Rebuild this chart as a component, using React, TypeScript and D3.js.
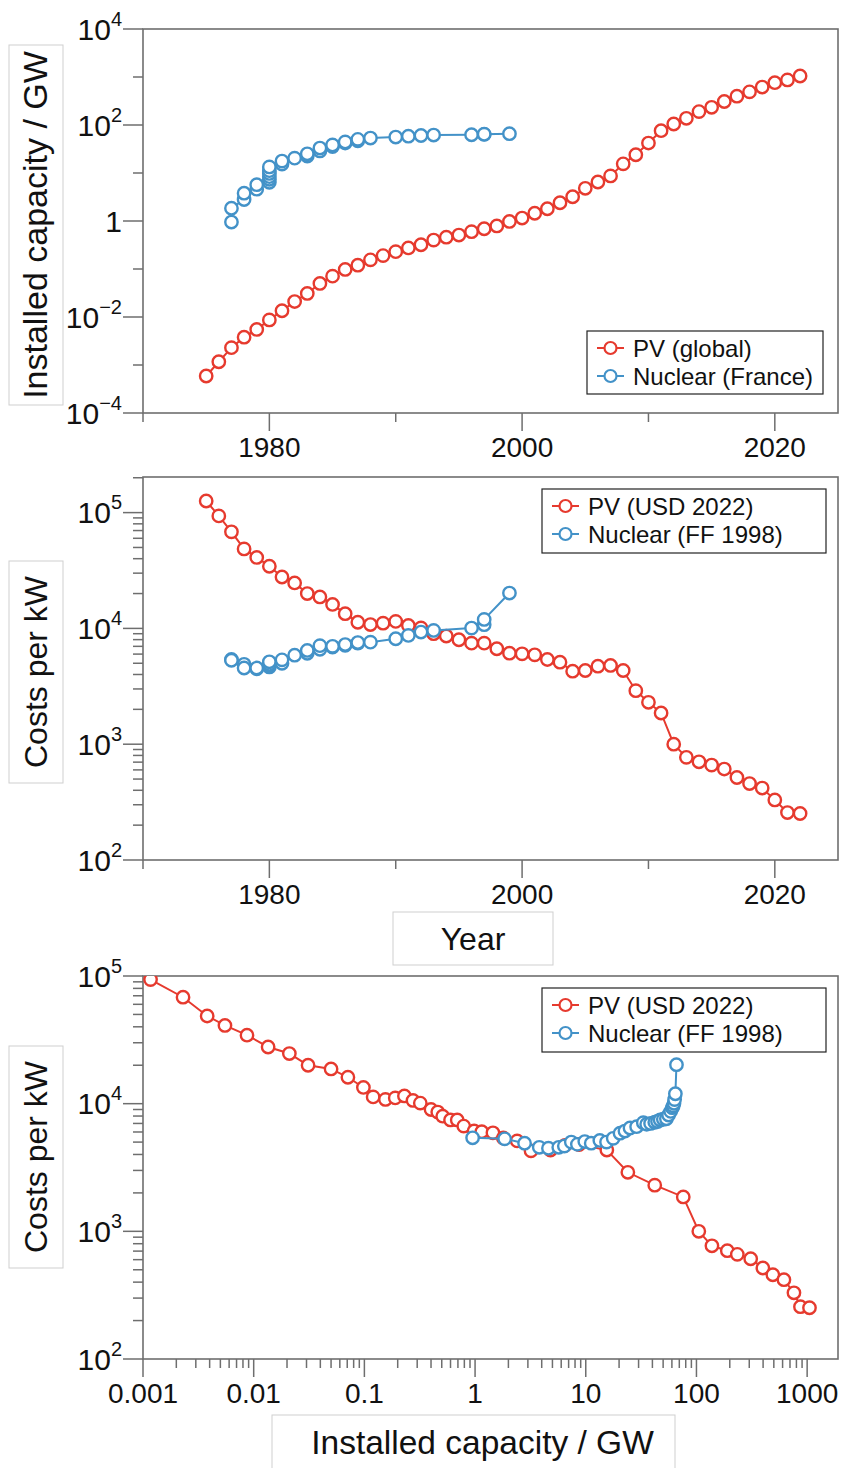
import { useEffect, useRef } from "react";
import * as d3 from "d3";

// PV (global) – year, cumulative installed capacity (GW), cost per kW (USD 2022)
const PV_YEARS = [
  1975, 1976, 1977, 1978, 1979, 1980, 1981, 1982, 1983, 1984, 1985, 1986,
  1987, 1988, 1989, 1990, 1991, 1992, 1993, 1994, 1995, 1996, 1997, 1998,
  1999, 2000, 2001, 2002, 2003, 2004, 2005, 2006, 2007, 2008, 2009, 2010,
  2011, 2012, 2013, 2014, 2015, 2016, 2017, 2018, 2019, 2020, 2021, 2022,
];
const PV_CAPACITY = [
  0.00059, 0.00117, 0.0023, 0.0038, 0.0055, 0.0087, 0.0135, 0.021, 0.031, 0.05,
  0.071, 0.098, 0.12, 0.155, 0.19, 0.23, 0.275, 0.32, 0.4, 0.46, 0.51, 0.6,
  0.69, 0.79, 0.98, 1.15, 1.45, 1.8, 2.4, 3.2, 4.8, 6.5, 8.7, 15.5, 24, 42, 76,
  105, 138, 190, 234, 309, 398, 490, 617, 760, 870, 1050,
];
const PV_COST = [
  126000, 93700, 68200, 48600, 41000, 34400, 27800, 24700, 20000, 18700, 16100,
  13400, 11300, 10800, 11100, 11500, 10600, 10100, 9000, 8590, 7980, 7460, 7460,
  6670, 6110, 6030, 5910, 5390, 5110, 4270, 4330, 4720, 4790, 4330, 2900, 2300,
  1860, 1000, 770, 705, 660, 610, 516, 457, 418, 330, 257, 252,
];

// Nuclear (France) – commissioning year, cumulative capacity (GW), cost per kW (FF 1998)
const NUC_YEARS = [
  1977, 1977, 1978, 1978, 1979, 1979, 1980, 1980, 1980, 1980, 1980, 1980,
  1981, 1981, 1982, 1983, 1983, 1984, 1984, 1985, 1985, 1986, 1986, 1987,
  1987, 1988, 1990, 1991, 1992, 1993, 1996, 1997, 1997, 1999,
];
const NUC_CAPACITY = [
  0.95, 1.85, 2.8, 3.8, 4.6, 5.7, 6.4, 7.4, 8.4, 9.8, 11.2, 13.4, 15.4, 17.7,
  20.4, 22.6, 25.1, 28.8, 33.1, 35.5, 38.5, 42, 44.5, 47, 50.2, 53.5, 56, 58.5,
  60.5, 61.7, 62.7, 63.5, 64.5, 66,
];
const NUC_COST = [
  5400, 5300, 4900, 4550, 4480, 4550, 4650, 5000, 4800, 5050, 4900, 5150, 5000,
  5350, 5870, 6100, 6450, 6600, 7100, 6900, 7000, 7150, 7250, 7450, 7550, 7610,
  8140, 8700, 9300, 9610, 10060, 10760, 11960, 20200,
];

const YEAR_TICKS = [1970, 1980, 1990, 2000, 2010, 2020];
const YEAR_LABELS = [1980, 2000, 2020];
const CAP_TICK_LABELS = ["0.001", "0.01", "0.1", "1", "10", "100", "1000"];

const RED = "#e63a2e";
const BLUE = "#4392c8";
const AXIS = "#6e6e6e";
const FONT = "'Liberation Sans', Arial, Helvetica, sans-serif";

const L = 143;
const R = 838;

export default function App() {
  const svgRef = useRef<SVGSVGElement>(null);

  useEffect(() => {
    if (!svgRef.current) return;
    const svg = d3.select(svgRef.current);
    svg.selectAll("*").remove();

    const pv = PV_YEARS.map((y, i) => ({ year: y, cap: PV_CAPACITY[i], cost: PV_COST[i] }));
    const nuc = NUC_YEARS.map((y, i) => ({ year: y, cap: NUC_CAPACITY[i], cost: NUC_COST[i] }));

    // y tick label like 10^n
    const powLabel = (g: any, e: number, x: number, y: number) => {
      const t = g.append("text")
        .attr("x", x).attr("y", y + 10.5)
        .attr("text-anchor", "end")
        .style("font-family", FONT).style("font-size", "30px").style("fill", "#111");
      if (e === 0) {
        t.text("1");
        return;
      }
      t.append("tspan").text("10");
      t.append("tspan").attr("dy", -14).style("font-size", "20px")
        .text(e < 0 ? "\u2212" + Math.abs(e) : String(e));
    };

    const panel = (opts: any) => {
      const { top, bottom, id, x, y, xTicks, yTicks, series, legend, legendBox } = opts;
      const g = svg.append("g");

      g.append("clipPath").attr("id", id).append("rect")
        .attr("x", L).attr("y", top).attr("width", R - L).attr("height", bottom - top);

      g.append("rect")
        .attr("x", L).attr("y", top).attr("width", R - L).attr("height", bottom - top)
        .style("fill", "#fff").style("stroke", AXIS).style("stroke-width", 1.6);

      // y ticks
      yTicks.forEach((t: any) => {
        const yy = y(t.v);
        g.append("line")
          .attr("x1", L - (t.major ? 20 : 10)).attr("x2", L)
          .attr("y1", yy).attr("y2", yy)
          .style("stroke", AXIS).style("stroke-width", 1.5);
        if (t.label !== undefined) powLabel(g, t.label, 122, yy);
      });

      // x ticks
      xTicks.forEach((t: any) => {
        const xx = x(t.v);
        g.append("line")
          .attr("x1", xx).attr("x2", xx)
          .attr("y1", bottom).attr("y2", bottom + (t.major ? 18 : 9))
          .style("stroke", AXIS).style("stroke-width", 1.5);
        if (t.label) {
          g.append("text")
            .attr("x", xx).attr("y", bottom + 44)
            .attr("text-anchor", "middle")
            .style("font-family", FONT).style("font-size", "28px").style("fill", "#111")
            .text(t.label);
        }
      });

      const plot = g.append("g").attr("clip-path", `url(#${id})`);
      series.forEach((s: any) => {
        const pts = s.data.filter((d: any) => s.xv(d) >= x.domain()[0]);
        const line = d3.line<any>().x((d) => x(s.xv(d))).y((d) => y(s.yv(d)));
        plot.append("path")
          .datum(pts)
          .attr("d", line)
          .style("fill", "none").style("stroke", s.color).style("stroke-width", 2);
        plot.selectAll(null)
          .data(pts)
          .enter()
          .append("circle")
          .attr("cx", (d: any) => x(s.xv(d)))
          .attr("cy", (d: any) => y(s.yv(d)))
          .attr("r", 6.2)
          .style("fill", "#fff").style("stroke", s.color).style("stroke-width", 2.4);
      });

      // legend
      const [lx, ly, lw, lh] = legendBox;
      const lg = g.append("g");
      lg.append("rect")
        .attr("x", lx).attr("y", ly).attr("width", lw).attr("height", lh)
        .style("fill", "#fff").style("stroke", "#222").style("stroke-width", 1.2);
      legend.forEach((item: any, i: number) => {
        const cy = ly + 17 + i * 28;
        lg.append("line")
          .attr("x1", lx + 10).attr("x2", lx + 37).attr("y1", cy).attr("y2", cy)
          .style("stroke", item.color).style("stroke-width", 2);
        lg.append("circle")
          .attr("cx", lx + 23.5).attr("cy", cy).attr("r", 6)
          .style("fill", "#fff").style("stroke", item.color).style("stroke-width", 2.2);
        lg.append("text")
          .attr("x", lx + 46).attr("y", cy + 8.5)
          .style("font-family", FONT).style("font-size", "24px").style("fill", "#111")
          .text(item.label);
      });
    };

    const yearTicks = YEAR_TICKS.map((v) => ({
      v, major: YEAR_LABELS.includes(v), label: YEAR_LABELS.includes(v) ? String(v) : "",
    }));

    const logTicks = (lo: number, hi: number, e0: number, e1: number) => {
      const out: any[] = [];
      for (let e = e0; e <= e1; e++) {
        for (let k = 1; k <= 9; k++) {
          const v = k * Math.pow(10, e);
          if (v < lo * 0.999 || v > hi * 1.001) continue;
          out.push({ v, major: k === 1, label: k === 1 ? e : undefined, k, e });
        }
      }
      return out;
    };

    // --- Panel 1: installed capacity vs year
    const x1 = d3.scaleLinear().domain([1970, 2025]).range([L, R]);
    const y1 = d3.scaleLog().domain([1e-4, 1e4]).range([413, 29]);
    const y1Ticks = d3.range(-4, 5).map((e) => ({
      v: Math.pow(10, e), major: e % 2 === 0, label: e % 2 === 0 ? e : undefined,
    }));
    panel({
      id: "clip1", top: 29, bottom: 413, x: x1, y: y1,
      xTicks: yearTicks, yTicks: y1Ticks,
      series: [
        { data: pv, color: RED, xv: (d: any) => d.year, yv: (d: any) => d.cap },
        { data: nuc, color: BLUE, xv: (d: any) => d.year, yv: (d: any) => d.cap },
      ],
      legend: [{ label: "PV (global)", color: RED }, { label: "Nuclear (France)", color: BLUE }],
      legendBox: [587, 331, 236, 63],
    });

    // --- Panel 2: cost vs year
    const y2 = d3.scaleLog().domain([100, 2.03e5]).range([860, 477]);
    panel({
      id: "clip2", top: 477, bottom: 860, x: x1, y: y2,
      xTicks: yearTicks, yTicks: logTicks(100, 2.03e5, 2, 5),
      series: [
        { data: pv, color: RED, xv: (d: any) => d.year, yv: (d: any) => d.cost },
        { data: nuc, color: BLUE, xv: (d: any) => d.year, yv: (d: any) => d.cost },
      ],
      legend: [{ label: "PV (USD 2022)", color: RED }, { label: "Nuclear (FF 1998)", color: BLUE }],
      legendBox: [542, 489, 284, 64],
    });

    // --- Panel 3: cost vs installed capacity
    const x3 = d3.scaleLog().domain([0.001, 1900]).range([L, R]);
    const y3 = d3.scaleLog().domain([100, 1e5]).range([1359, 976]);
    const x3Ticks = logTicks(0.001, 1900, -3, 3).map((t: any) => ({
      ...t, label: t.k === 1 ? CAP_TICK_LABELS[t.e + 3] : "",
    }));
    panel({
      id: "clip3", top: 976, bottom: 1359, x: x3, y: y3,
      xTicks: x3Ticks, yTicks: logTicks(100, 1e5, 2, 5),
      series: [
        { data: pv, color: RED, xv: (d: any) => d.cap, yv: (d: any) => d.cost },
        { data: nuc, color: BLUE, xv: (d: any) => d.cap, yv: (d: any) => d.cost },
      ],
      legend: [{ label: "PV (USD 2022)", color: RED }, { label: "Nuclear (FF 1998)", color: BLUE }],
      legendBox: [542, 988, 284, 64],
    });

    // axis titles in light boxes
    const titleBox = (x: number, y: number, w: number, h: number, text: string, rotate: boolean, size: number, shift = 0) => {
      svg.append("rect")
        .attr("x", x).attr("y", y).attr("width", w).attr("height", h)
        .style("fill", "#fff").style("stroke", "#cfcfcf").style("stroke-width", 1);
      const cx = x + w / 2;
      const cy = y + h / 2;
      svg.append("text")
        .attr("transform", rotate ? `translate(${cx + 11},${cy + shift}) rotate(-90)` : `translate(${cx + shift},${cy + 11})`)
        .attr("text-anchor", "middle")
        .style("font-family", FONT).style("font-size", `${size}px`).style("fill", "#111")
        .text(text);
    };
    titleBox(9, 45, 54, 360, "Installed capacity / GW", true, 34);
    titleBox(9, 561, 54, 222, "Costs per kW", true, 32);
    titleBox(393, 912, 160, 53, "Year", false, 32);
    titleBox(9, 1046, 54, 222, "Costs per kW", true, 32);
    titleBox(272, 1415, 403, 56, "Installed capacity / GW", false, 33.5, 9);
  }, []);

  return (
    <svg
      ref={svgRef}
      width={842}
      height={1468}
      style={{ position: "absolute", left: 0, top: 0, background: "#fff" }}
    />
  );
}
